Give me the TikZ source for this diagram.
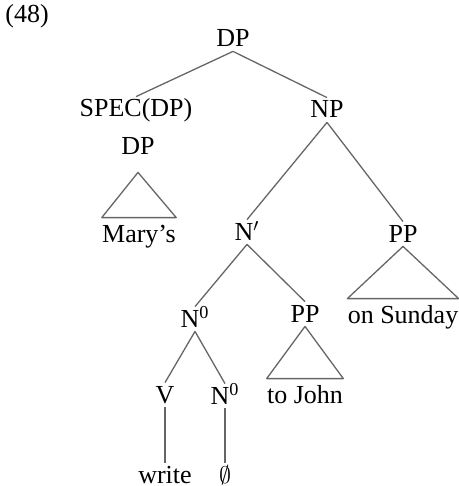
\documentclass[tikz,border=0pt]{standalone}
\usepackage{fontspec}
\setmainfont{Liberation Serif}

\begin{document}
\begin{tikzpicture}[
  x=0.5pt,y=-0.5pt,
  cat/.style={anchor=base,font=\fontsize{13}{15}\selectfont,inner xsep=0pt,
              inner ysep=2pt,text height=8pt,text depth=0pt},
  leaf/.style={cat,inner ysep=4pt},
  edge/.style={draw=black!60,line width=0.65pt},
  roof/.style={edge,line join=round}
]
\useasboundingbox (0,0) rectangle (459,486);
\node[cat,anchor=base west] (num) at (5,23) {(48)};
% top of the tree
\node[cat] (dp) at (233,47) {DP};
\node[cat] (spec) at (136,117) {SPEC(DP)};
\node[cat] (dp2) at (138,155) {DP};
\node[leaf] (mary) at (139,242) {Mary's};
\node[cat] (np) at (327,118) {NP};
\node[cat] (nbar) at (247,240) {N$'$};
\node[cat] (pp1) at (403,242) {PP};
\node[leaf] (sunday) at (403,323) {on Sunday};
% N' subtree
\node[cat] (n0) at (195,327) {N\textsuperscript{0}};
\node[cat] (pp2) at (305,322) {PP};
\node[leaf] (john) at (305,403) {to John};
\node[cat] (v) at (165,403) {V};
\node[cat] (n0b) at (225,404) {N\textsuperscript{0}};
\node[cat] (write) at (165,483) {write};
\node[cat] (empty) at (225,483) {$\emptyset$};
\draw[edge] (dp.south) -- (spec.north);
\draw[edge] (dp.south) -- (np.north);
\draw[roof] ([yshift=-6.5pt]dp2.south) -- (mary.north west) -- (mary.north east) -- cycle;
\draw[edge] (np.south) -- (nbar.north);
\draw[edge] (np.south) -- (pp1.north);
\draw[roof] (pp1.south) -- (sunday.north west) -- (sunday.north east) -- cycle;
\draw[edge] (nbar.south) -- (n0.north);
\draw[edge] (nbar.south) -- (pp2.north);
\draw[roof] (pp2.south) -- (john.north west) -- (john.north east) -- cycle;
\draw[edge] (n0.south) -- (v.north);
\draw[edge] (n0.south) -- (n0b.north);
\draw[edge] (v.south) -- (write.north);
\draw[edge] (n0b.south) -- (empty.north);
\end{tikzpicture}
\end{document}
